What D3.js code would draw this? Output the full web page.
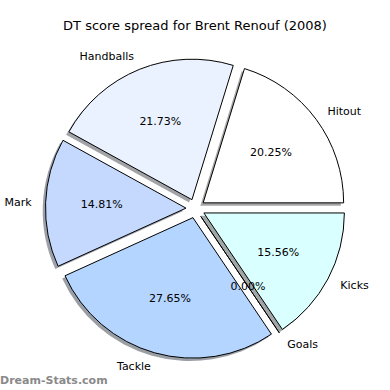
<!DOCTYPE html>
<html>
<head>
<meta charset="utf-8">
<script src="https://cdn.jsdelivr.net/npm/d3@7"></script>
<style>
  body { margin: 0; background: #fff; }
  svg text { font-family: "DejaVu Sans", sans-serif; }
</style>
</head>
<body>
<svg id="chart" width="390" height="390"></svg>
<script>
// chart data
const title = 'DT score spread for Brent Renouf (2008)';
const categories = ['Hitout', 'Handballs', 'Mark', 'Tackle', 'Goals', 'Kicks'];
const shares = [20.25, 21.73, 14.81, 27.65, 0.00, 15.56];
const colors = ['#ffffff', '#eaf1ff', '#c5d9ff', '#b4d5ff', '#cce6ff', '#d9ffff'];

const cx = 195.5, cy = 208.5, radius = 140.5;
const explode = 9.5;      // px each slice is pulled out
const shadowOff = 2.8;    // shadow shifted left and down

const svg = d3.select('#chart');

svg.append('text')
    .attr('x', 195)
    .attr('y', 25)
    .attr('text-anchor', 'middle')
    .attr('dominant-baseline', 'central')
    .style('font-size', '13px')
    .text(title);

// start at 3 o'clock and go counter-clockwise, like matplotlib
const pie = d3.pie()
    .sort(null)
    .value(d => d.value)
    .startAngle(Math.PI / 2)
    .endAngle(Math.PI / 2 - 2 * Math.PI);

const rows = categories.map((c, i) => ({name: c, value: shares[i], color: colors[i]}));
const arcs = pie(rows);

const arc = d3.arc().innerRadius(0).outerRadius(radius);

// offset of the exploded slice centre
function shift(d, dist) {
    const a = (d.startAngle + d.endAngle) / 2;
    return [Math.sin(a) * dist, -Math.cos(a) * dist];
}

const g = svg.append('g').attr('transform', `translate(${cx},${cy})`);

// shadows under every slice
g.selectAll('path.shadow')
    .data(arcs)
    .enter().append('path')
    .attr('class', 'shadow')
    .attr('d', arc)
    .attr('transform', d => {
        const [dx, dy] = shift(d, explode);
        return `translate(${dx - shadowOff},${dy + shadowOff})`;
    })
    .attr('fill', d => {
        const c = d3.rgb(d.data.color);
        return d3.rgb(c.r * 0.3, c.g * 0.3, c.b * 0.3).toString();
    })
    .attr('fill-opacity', 0.5)
    .attr('stroke', 'none');

g.selectAll('path.slice')
    .data(arcs)
    .enter().append('path')
    .attr('class', 'slice')
    .attr('d', arc)
    .attr('transform', d => {
        const [dx, dy] = shift(d, explode);
        return `translate(${dx},${dy})`;
    })
    .attr('fill', d => d.data.color)
    .attr('stroke', '#000')
    .attr('stroke-width', 1)
    .attr('stroke-linejoin', 'round');

// category labels at 1.1 r
g.selectAll('text.label')
    .data(arcs)
    .enter().append('text')
    .attr('class', 'label')
    .attr('x', d => shift(d, explode)[0] + shift(d, radius * 1.1)[0])
    .attr('y', d => shift(d, explode)[1] + shift(d, radius * 1.1)[1])
    .attr('text-anchor', d => shift(d, 1)[0] > 0 ? 'start' : 'end')
    .attr('dominant-baseline', 'central')
    .style('font-size', '11px')
    .text(d => d.data.name);

// percentages at 0.6 r
g.selectAll('text.pct')
    .data(arcs)
    .enter().append('text')
    .attr('class', 'pct')
    .attr('x', d => shift(d, explode)[0] + shift(d, radius * 0.6)[0])
    .attr('y', d => shift(d, explode)[1] + shift(d, radius * 0.6)[1])
    .attr('text-anchor', 'middle')
    .attr('dominant-baseline', 'central')
    .style('font-size', '11px')
    .text(d => d.data.value.toFixed(2) + '%');

svg.append('text')
    .attr('x', 0)
    .attr('y', 380)
    .attr('dominant-baseline', 'central')
    .attr('fill', '#8a8a8a')
    .style('font-size', '11px')
    .style('font-weight', '600')
    .text('Dream-Stats.com');
</script>
</body>
</html>
